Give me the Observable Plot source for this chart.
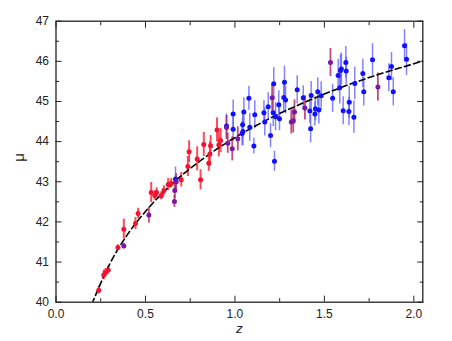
<!DOCTYPE html>
<html>
<head>
<meta charset="utf-8">
<script src="https://cdn.jsdelivr.net/npm/d3@7"></script>
<script src="https://cdn.jsdelivr.net/npm/@observablehq/plot@0.6"></script>
<style>
  html, body { margin: 0; padding: 0; background: #fff; }
  svg { font-family: "Liberation Sans", Arial, sans-serif; }
</style>
</head>
<body>
<div id="chart"></div>
<script>
// Red sample
const redZ   = [0.239, 0.267, 0.277, 0.292, 0.346, 0.379, 0.444, 0.459, 0.532, 0.552, 0.562, 0.588, 0.603, 0.627, 0.644, 0.700, 0.737, 0.744, 0.789, 0.808, 0.826, 0.854, 0.860, 0.864, 0.900, 0.910, 0.920];
const redMu  = [40.30, 40.68, 40.74, 40.80, 41.36, 41.82, 41.96, 42.21, 42.73, 42.66, 42.73, 42.65, 42.78, 42.93, 42.96, 43.05, 43.38, 43.75, 43.57, 43.05, 43.93, 43.46, 43.69, 43.90, 44.29, 43.92, 44.03];
const redErr = [0.10, 0.12, 0.10, 0.10, 0.07, 0.25, 0.15, 0.13, 0.25, 0.12, 0.12, 0.10, 0.12, 0.15, 0.12, 0.18, 0.25, 0.27, 0.30, 0.25, 0.30, 0.20, 0.30, 0.25, 0.30, 0.30, 0.30];
// Purple sample
const purZ   = [0.379, 0.519, 0.662, 0.664, 0.672, 0.953, 0.960, 0.985, 1.016, 1.208, 1.315, 1.326, 1.333, 1.391, 1.534, 1.799];
const purMu  = [41.40, 42.17, 42.51, 42.78, 43.00, 44.35, 43.96, 43.82, 44.07, 45.09, 44.49, 44.52, 44.74, 44.84, 45.97, 45.36];
const purErr = [0.07, 0.20, 0.15, 0.20, 0.20, 0.30, 0.25, 0.30, 0.30, 0.35, 0.30, 0.30, 0.30, 0.30, 0.35, 0.35];
// Blue sample
const bluZ   = [0.668, 0.953, 0.990, 0.990, 1.040, 1.045, 1.043, 1.050, 1.078, 1.083, 1.106, 1.111, 1.162, 1.167, 1.186, 1.199, 1.214, 1.217, 1.221, 1.227, 1.245, 1.249, 1.273, 1.277, 1.283, 1.348, 1.382, 1.419, 1.426, 1.423, 1.447, 1.450, 1.463, 1.469, 1.482, 1.546, 1.577, 1.586, 1.590, 1.595, 1.605, 1.620, 1.622, 1.639, 1.637, 1.665, 1.670, 1.715, 1.720, 1.769, 1.860, 1.875, 1.885, 1.948, 1.959];
const bluMu  = [43.07, 44.39, 44.69, 44.31, 44.20, 44.25, 44.42, 44.74, 45.08, 44.36, 43.89, 44.67, 44.72, 44.49, 44.87, 44.15, 44.72, 45.44, 43.51, 44.62, 44.92, 44.57, 45.10, 45.48, 45.04, 45.29, 45.09, 44.76, 45.15, 44.32, 44.69, 44.82, 45.24, 44.79, 45.14, 45.08, 45.65, 45.34, 45.77, 45.81, 44.77, 45.97, 45.76, 44.98, 44.75, 44.61, 45.45, 45.70, 45.24, 46.04, 45.59, 45.87, 45.24, 46.39, 46.05];
const bluErr = [0.30, 0.30, 0.35, 0.30, 0.30, 0.35, 0.35, 0.35, 0.30, 0.35, 0.20, 0.35, 0.30, 0.35, 0.35, 0.30, 0.35, 0.40, 0.25, 0.35, 0.35, 0.30, 0.35, 0.40, 0.35, 0.35, 0.30, 0.30, 0.35, 0.35, 0.30, 0.30, 0.35, 0.35, 0.35, 0.35, 0.40, 0.40, 0.40, 0.40, 0.35, 0.40, 0.35, 0.40, 0.35, 0.40, 0.40, 0.35, 0.35, 0.40, 0.35, 0.35, 0.35, 0.40, 0.40];
// Dashed model curve
const curveZ  = [0.20, 0.30, 0.40, 0.50, 0.60, 0.70, 0.80, 0.90, 1.00, 1.20, 1.40, 1.60, 1.80, 2.00, 2.05];
const curveMu = [39.95, 40.95, 41.69, 42.26, 42.74, 43.15, 43.50, 43.82, 44.10, 44.59, 45.00, 45.36, 45.67, 45.94, 46.01];
// Ticks
const xMajor = [0.0, 0.5, 1.0, 1.5, 2.0];
const xMinor = [0.25, 0.75, 1.25, 1.75];
const yMajor = [40, 41, 42, 43, 44, 45, 46, 47];
const yMinor = [40.5, 41.5, 42.5, 43.5, 44.5, 45.5, 46.5];

const mk = (Z, M, E) => Z.map((z, i) => ({z, mu: M[i], err: E[i]}));
const red = mk(redZ, redMu, redErr);
const pur = mk(purZ, purMu, purErr);
const blu = mk(bluZ, bluMu, bluErr);
const curve = curveZ.map((z, i) => ({z, mu: curveMu[i]}));

const ink = "#222";
const chart = Plot.plot({
  width: 452,
  height: 341,
  marginLeft: 55.5,
  marginRight: 29.7,
  marginTop: 20.7,
  marginBottom: 39.3,
  style: {fontSize: "12px", fontFamily: "'Liberation Sans', Arial, sans-serif", color: ink, background: "#fff"},
  x: {domain: [0, 2.05]},
  y: {domain: [40, 47]},
  marks: [
    Plot.ruleX(blu, {x: "z", y1: d => d.mu - d.err, y2: d => d.mu + d.err, stroke: "#5a5aff", strokeOpacity: 0.75, strokeWidth: 1.5}),
    Plot.ruleX(red, {x: "z", y1: d => d.mu - d.err, y2: d => d.mu + d.err, stroke: "#ff2a3a", strokeOpacity: 0.85, strokeWidth: 2}),
    Plot.ruleX(pur, {x: "z", y1: d => d.mu - d.err, y2: d => d.mu + d.err, stroke: "#b0205a", strokeOpacity: 0.8, strokeWidth: 1.8}),
    Plot.line(curve, {x: "z", y: "mu", stroke: "#000", strokeWidth: 1.6, strokeDasharray: "6,3.5", curve: "monotone-x", clip: true}),
    Plot.dot(blu, {x: "z", y: "mu", r: 2.5, fill: "#1010ff", stroke: null}),
    Plot.dot(red, {x: "z", y: "mu", r: 2.5, fill: "#ee1432", stroke: null}),
    Plot.dot(pur, {x: "z", y: "mu", r: 2.5, fill: "#7a16a8", stroke: null}),
    Plot.axisX(xMajor, {tickSize: 0, tickPadding: 7, tickFormat: d3.format(".1f"), label: null, fontSize: 12}),
    Plot.axisY(yMajor, {tickSize: 0, tickPadding: 7, tickFormat: d3.format("d"), label: null, fontSize: 12}),
    Plot.axisX(xMajor, {anchor: "bottom", tickSize: -6, text: null, label: null, stroke: ink}),
    Plot.axisX(xMinor, {anchor: "bottom", tickSize: -3.5, text: null, label: null, stroke: ink}),
    Plot.axisX(xMajor, {anchor: "top", tickSize: -6, text: null, label: null, stroke: ink}),
    Plot.axisX(xMinor, {anchor: "top", tickSize: -3.5, text: null, label: null, stroke: ink}),
    Plot.axisY(yMajor, {anchor: "left", tickSize: -6, text: null, label: null, stroke: ink}),
    Plot.axisY(yMinor, {anchor: "left", tickSize: -3.5, text: null, label: null, stroke: ink}),
    Plot.axisY(yMajor, {anchor: "right", tickSize: -6, text: null, label: null, stroke: ink}),
    Plot.axisY(yMinor, {anchor: "right", tickSize: -3.5, text: null, label: null, stroke: ink}),
    Plot.frame({stroke: ink, strokeWidth: 1.3}),
    Plot.text(["z"], {frameAnchor: "bottom", dy: 31, text: d => d, fontStyle: "italic", fontSize: 13.5, fill: ink}),
    Plot.text(["μ"], {frameAnchor: "left", dx: -37, text: d => d, rotate: -90, fontSize: 15, fill: ink})
  ]
});
document.getElementById("chart").appendChild(chart);
</script>
</body>
</html>
